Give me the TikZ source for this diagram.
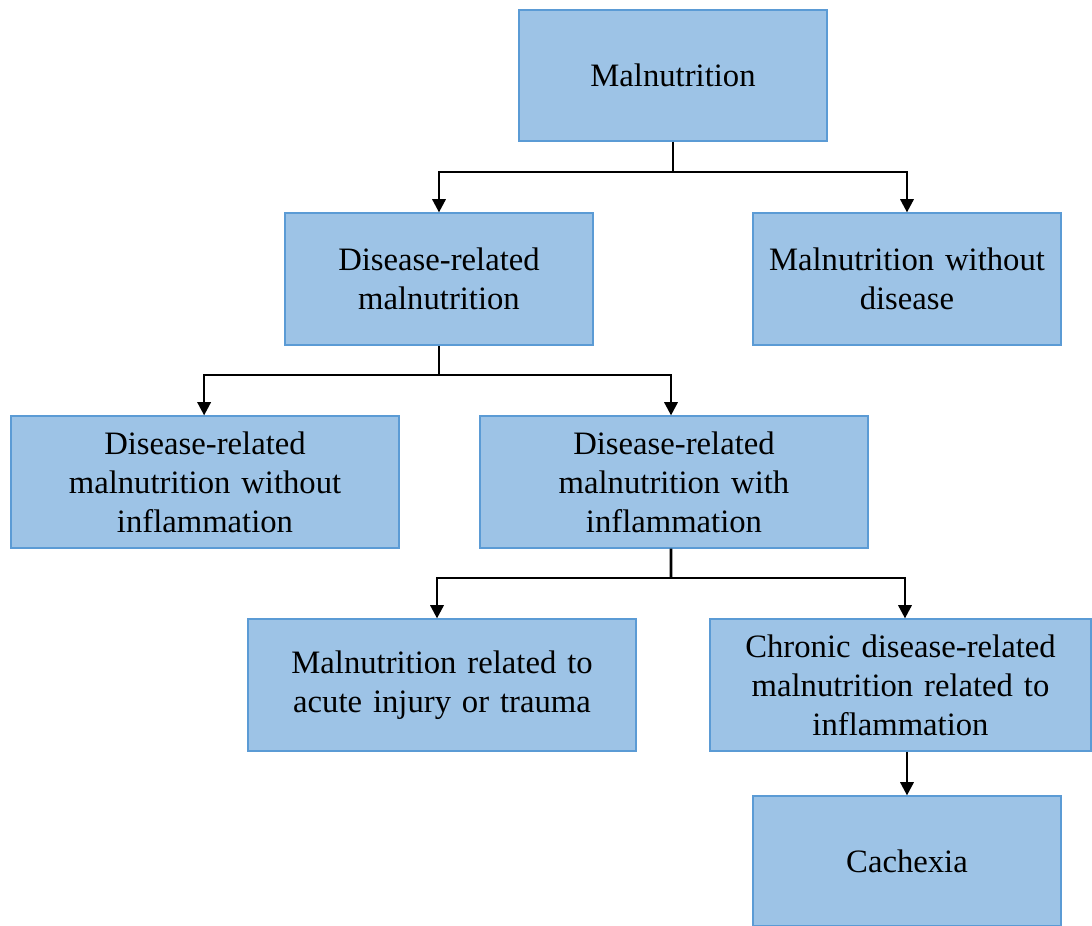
\documentclass[tikz,border=0pt]{standalone}
\usepackage{fontspec}
\setmainfont{Liberation Serif}
\usetikzlibrary{arrows.meta}
\definecolor{boxfill}{HTML}{9DC3E6}
\definecolor{boxline}{HTML}{5B9BD5}
\tikzset{
  box/.style={draw=boxline, fill=boxfill, line width=0.7pt, inner sep=0pt, align=center,
    font=\fontsize{18.6}{22.1}\selectfont, anchor=center},
  conn/.style={line width=1.5pt, black},
  arr/.style={conn, -{Triangle[length=7.5pt,width=7.5pt]}}
}
\begin{document}
\begin{tikzpicture}[x=0.02cm, y=-0.02cm]
\useasboundingbox (0,0) rectangle (1092,926);
\node[box, text width=6.16cm, minimum height=2.62cm] (m) at (673,75.5) {Malnutrition};
\node[box, text width=6.16cm, minimum height=2.64cm] (drm) at (439,279) {Disease-related\\malnutrition};
\node[box, text width=6.16cm, minimum height=2.64cm] (mwd) at (907,279) {Malnutrition without\\disease};
\node[box, text width=7.76cm, minimum height=2.64cm] (dwo) at (205,482) {Disease-related\\malnutrition without\\inflammation};
\node[box, text width=7.76cm, minimum height=2.64cm] (dwi) at (674,482) {Disease-related\\malnutrition with\\inflammation};
\node[box, text width=7.76cm, minimum height=2.64cm] (acute) at (442,685) {Malnutrition related to\\acute injury or trauma};
\node[box, text width=7.62cm, minimum height=2.64cm] (chronic) at (900.5,685) {Chronic disease-related\\malnutrition related to\\inflammation};
\node[box, text width=6.16cm, minimum height=2.6cm] (cx) at (907,861) {Cachexia};
\coordinate (j1) at (673,172);
\coordinate (j2) at (439,375);
\coordinate (j3) at (671,578);
\draw[conn] (m.south) -- (j1);
\draw[arr] (j1) -| (drm.north);
\draw[arr] (j1) -| (mwd.north);
\draw[conn] (drm.south) -- (j2);
\draw[arr] (j2) -| ([xshift=-0.5pt]dwo.north);
\draw[arr] (j2) -| ([xshift=-3*0.567pt]dwi.north);
\draw[conn] ([xshift=-3*0.567pt]dwi.south) -- (j3);
\draw[arr] (j3) -| ([xshift=-5*0.567pt]acute.north);
\draw[arr] (j3) -| ([xshift=4.5*0.567pt]chronic.north);
\draw[arr] (cx.north |- chronic.south) -- (cx.north);
\end{tikzpicture}
\end{document}
